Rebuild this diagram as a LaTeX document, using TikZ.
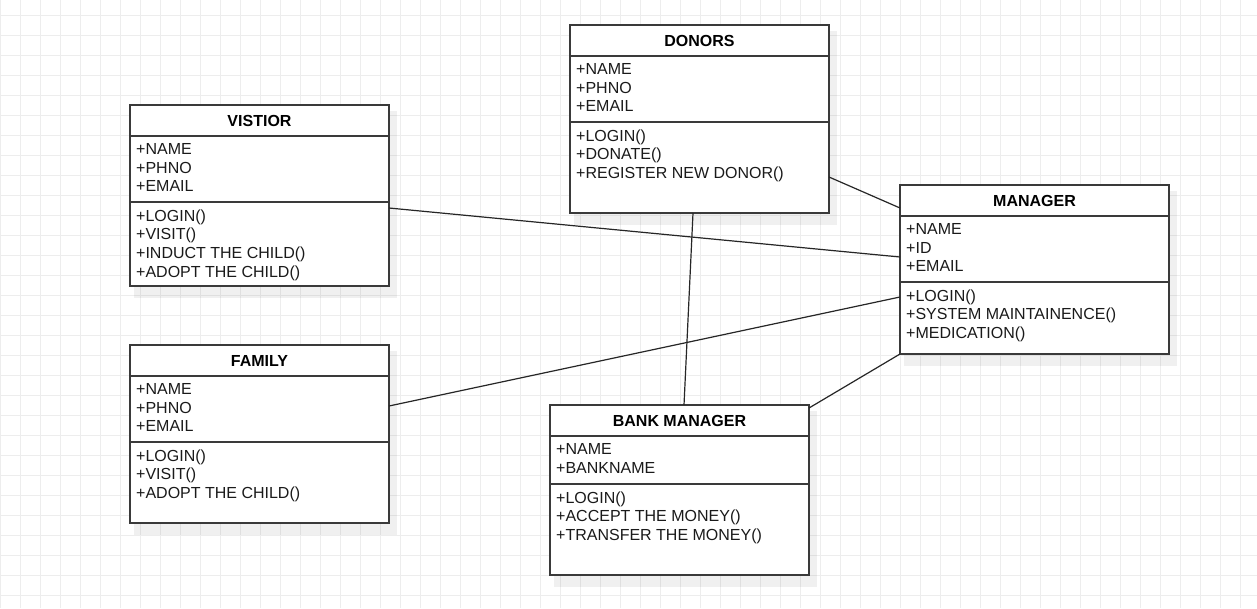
\documentclass[tikz,border=0pt]{standalone}
\usepackage{fontspec}
\setmainfont{Liberation Sans}
\usetikzlibrary{calc}
\definecolor{gridc}{HTML}{EDEDED}
\definecolor{borderc}{HTML}{3A3A3A}
\definecolor{txtc}{HTML}{1A1A1A}
\tikzset{
  classbox/.style={draw=borderc, fill=white, line width=1.3pt, inner sep=0pt, outer sep=0pt},
  divider/.style={draw=borderc, line width=1.2pt},
  titlef/.style={font=\fontsize{16}{19}\selectfont\bfseries, text=black, inner sep=0pt, anchor=base},
  txt/.style={font=\fontsize{16}{19}\selectfont, text=txtc, inner sep=0pt, anchor=base west},
  conn/.style={draw=black!85, line width=1.2pt},
  shadowbox/.style={fill=black, fill opacity=0.06}
}
% #1 name, #2 left, #3 top, #4 width, #5 height, #6 title, #7 method divider offset, #8 attrs, #9 methods
\newcommand\umlbox[9]{%
  \fill[shadowbox] (#2+4,#3+6) rectangle ++(#4+4,#5+6);
  \node[classbox, minimum width=#4, minimum height=#5, anchor=north west] (#1) at (#2,#3) {};
  \node[titlef] (#1-t) at (#2+#4/2,#3+21) {#6};
  \draw[divider] (#2,#3+31) -- ++(#4,0);
  \draw[divider] (#2,#3+#7) -- ++(#4,0);
  \foreach \t [count=\i] in {#8} \node[txt] (#1-a\i) at (#2+6,#3+49.3+18.7*\i-18.7) {\t};
  \foreach \t [count=\i] in {#9} \node[txt] (#1-m\i) at (#2+6,#3+#7+19+18.7*\i-18.7) {\t};
}
\begin{document}
\begin{tikzpicture}[x=1pt,y=-1pt]
\useasboundingbox (0,0) rectangle (1257,608);
\fill[white] (0,0) rectangle (1257,608);
\foreach \gx in {0,20,...,1256} \draw[gridc, line width=0.8pt] (\gx,0) -- (\gx,608);
\foreach \gy in {15,35,...,607} \draw[gridc, line width=0.8pt] (0,\gy) -- (1257,\gy);

\umlbox{donors}{570}{25}{259}{188}{DONORS}{97}{{+NAME},{+PHNO},{+EMAIL}}{{+LOGIN()},{+DONATE()},{+REGISTER NEW DONOR()}}
\umlbox{vistior}{130}{105}{259}{181}{VISTIOR}{97}{{+NAME},{+PHNO},{+EMAIL}}{{+LOGIN()},{+VISIT()},{+INDUCT THE CHILD()},{+ADOPT THE CHILD()}}
\umlbox{manager}{900}{185}{269}{169}{MANAGER}{97}{{+NAME},{+ID},{+EMAIL}}{{+LOGIN()},{+SYSTEM MAINTAINENCE()},{+MEDICATION()}}
\umlbox{family}{130}{345}{259}{178}{FAMILY}{97}{{+NAME},{+PHNO},{+EMAIL}}{{+LOGIN()},{+VISIT()},{+ADOPT THE CHILD()}}
\umlbox{bank}{550}{405}{259}{170}{BANK MANAGER}{79}{{+NAME},{+BANKNAME}}{{+LOGIN()},{+ACCEPT THE MONEY()},{+TRANSFER THE MONEY()}}

\draw[conn] ($(donors.north east)+(0,152)$) -- ($(manager.north west)+(0,23)$);
\draw[conn] ($(vistior.north east)+(0,103)$) -- ($(manager.north west)+(0,72)$);
\draw[conn] ($(family.north east)+(0,61)$) -- ($(manager.north west)+(0,112)$);
\draw[conn] ($(donors.south west)+(123,0)$) -- ($(bank.north west)+(134,0)$);
\draw[conn] ($(bank.north east)+(0,3)$) -- (manager.south west);
\end{tikzpicture}
\end{document}
